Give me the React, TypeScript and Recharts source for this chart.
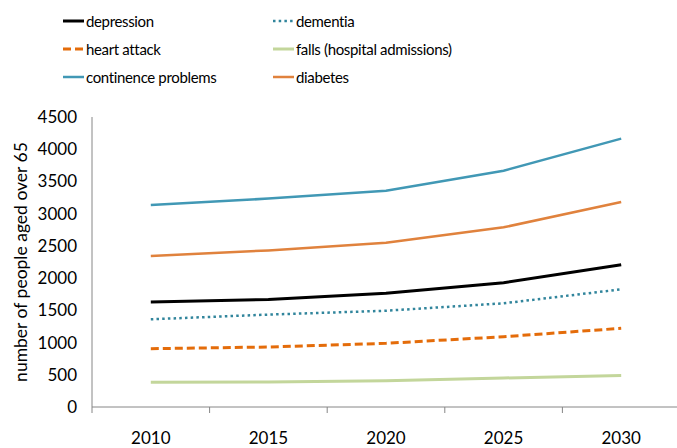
import { LineChart, Line, XAxis, YAxis } from "recharts";

const years = [2010, 2015, 2020, 2025, 2030];
const depression = [1629, 1670, 1764, 1929, 2208];
const dementia = [1361, 1434, 1494, 1609, 1826];
const heartAttack = [905, 931, 988, 1091, 1221];
const falls = [383, 388, 408, 450, 487];
const continence = [3134, 3234, 3357, 3667, 4165];
const diabetes = [2343, 2430, 2550, 2788, 3181];

const yTicks = [0, 500, 1000, 1500, 2000, 2500, 3000, 3500, 4000, 4500];
// category boundaries, where the axis tick marks sit
const boundaries = [2007.5, 2012.5, 2017.5, 2022.5, 2027.5, 2032.5];

const series = [
  { key: "depression", name: "depression", values: depression, color: "#000000", width: 3, dash: undefined },
  { key: "dementia", name: "dementia", values: dementia, color: "#31859C", width: 2.5, dash: "2.5 3.2" },
  { key: "heartAttack", name: "heart attack", values: heartAttack, color: "#E46C0A", width: 3, dash: "8 4" },
  { key: "falls", name: "falls (hospital admissions)", values: falls, color: "#C3D69B", width: 3, dash: undefined },
  { key: "continence", name: "continence problems", values: continence, color: "#4198B5", width: 2.5, dash: undefined },
  { key: "diabetes", name: "diabetes", values: diabetes, color: "#E0823D", width: 2.5, dash: undefined },
];

const data = years.map((year, i) => {
  const row: Record<string, number> = { year };
  series.forEach((s) => (row[s.key] = s.values[i]));
  return row;
});

const font = "Lato, 'Open Sans', sans-serif";

function LegendBlock() {
  return (
    <div style={{ position: "absolute", left: 63, top: 10, width: 560, display: "grid", gridTemplateColumns: "210px 300px", rowGap: 7, fontFamily: font, fontSize: 15, letterSpacing: -0.35, color: "#000" }}>
      {series.map((s) => (
        <div key={s.key} style={{ display: "flex", alignItems: "center", height: 21 }}>
          <svg width={22} height={6}>
            <line x1={0} y1={3} x2={21} y2={3} stroke={s.color} strokeWidth={s.width} strokeDasharray={s.dash} />
          </svg>
          <span style={{ marginLeft: 1 }}>{s.name}</span>
        </div>
      ))}
    </div>
  );
}

// tick mark only, no text
const BlankTick = () => <g />;

export default function App() {
  return (
    <div style={{ position: "absolute", left: 0, top: 0, width: 677, height: 448, background: "#fff", overflow: "hidden" }}>
      <LegendBlock />
      <LineChart width={677} height={448} data={data} margin={{ top: 117, right: -3, left: 0, bottom: 0 }}>
        <YAxis
          domain={[0, 4500]}
          ticks={yTicks}
          width={92}
          tickLine={false}
          axisLine={{ stroke: "#868686" }}
          tickMargin={9}
          tick={{ fontSize: 17, fill: "#000", fontFamily: font }}
          label={{ value: "number of people aged over 65", angle: -90, position: "center", dx: -25, style: { fontSize: 17.5, fill: "#000", fontFamily: font } }}
        />
        <XAxis
          xAxisId={0}
          type="number"
          dataKey="year"
          domain={[2007.5, 2032.5]}
          ticks={boundaries}
          interval={0}
          tick={BlankTick}
          height={8}
          tickSize={6}
          axisLine={{ stroke: "#868686" }}
          tickLine={{ stroke: "#868686" }}
        />
        <XAxis
          xAxisId={1}
          type="number"
          dataKey="year"
          domain={[2007.5, 2032.5]}
          ticks={years}
          interval={0}
          height={33}
          axisLine={false}
          tickLine={false}
          tickSize={0}
          tickMargin={17}
          tick={{ fontSize: 17, fill: "#000", fontFamily: font }}
        />
        {series.map((s) => (
          <Line
            key={s.key}
            xAxisId={0}
            type="linear"
            dataKey={s.key}
            name={s.name}
            stroke={s.color}
            strokeWidth={s.width}
            strokeDasharray={s.dash}
            dot={false}
            activeDot={false}
            isAnimationActive={false}
          />
        ))}
      </LineChart>
    </div>
  );
}
